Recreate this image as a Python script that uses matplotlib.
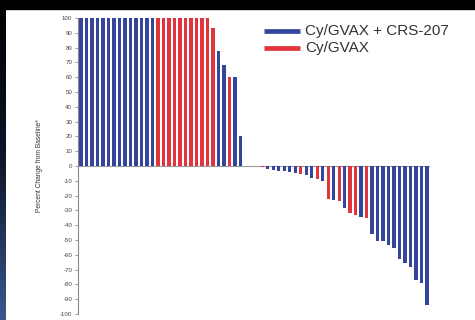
import numpy as np
import matplotlib
matplotlib.use("Agg")
import matplotlib.pyplot as plt

# percent change from baseline, one bar per patient, left to right
values = [100] * 14 + [100] * 10 + [93, 78, 68, 60, 60, 20, 0, 0, 0,
          -1, -2.3, -2.5, -3.2, -3.4, -4.1, -5, -5.4, -6.1, -7.9, -8.8, -9.9,
          -22.3, -23, -23.4, -28.6, -32, -33.1, -34.2, -35.4,
          -45.9, -50.5, -50.5, -53.4, -55.6, -62.6, -65.3, -68.5, -77, -78.8, -94.1]
# arm of each bar: "B" = Cy/GVAX + CRS-207, "R" = Cy/GVAX
arms = ("B" * 14 + "R" * 10 + "RBBRBB" + "BBB" + "R" + "BBBBBB" + "R" + "BB" + "R" + "B"
        + "RBRBRRBR" + "B" * 11)
legend_labels = ["Cy/GVAX + CRS-207", "Cy/GVAX"]
yticks = list(range(-100, 101, 10))

blue = "#33469b"
red = "#e0353a"
colors = [blue if a == "B" else red for a in arms]

fig = plt.figure(figsize=(4.75, 3.2), dpi=100)
fig.patch.set_facecolor("white")

# dark frame: black band on top, gradient strip on the left
bg = fig.add_axes([0, 0, 1, 1], zorder=-5)
bg.axis("off")
bg.add_patch(plt.Rectangle((0, 0), 475, 9, color="black"))
grad = np.linspace(0, 1, 256).reshape(-1, 1)
cmap = matplotlib.colors.LinearSegmentedColormap.from_list("g", ["#000000", "#0d1528", "#3b5790"])
bg.imshow(grad, extent=(0, 6, 320, 0), cmap=cmap, aspect="auto")
bg.set_xlim(0, 475)
bg.set_ylim(320, 0)

n = len(values)
ax = fig.add_axes([0.1636, 0.01875, 0.7425, 0.925])
x = np.arange(n)
ax.bar(x, values, width=0.62, color=colors, linewidth=0)
ax.set_xlim(-0.6, n - 0.4)
ax.set_ylim(-100, 100)
ax.axhline(0, color="#9a9a9a", linewidth=0.8, zorder=0.5)

for s in ["top", "right", "bottom"]:
    ax.spines[s].set_visible(False)
ax.spines["left"].set_color("#8a8a8a")
ax.spines["left"].set_linewidth(0.8)
ax.set_xticks([])
ax.set_yticks(yticks)
ax.set_yticklabels([str(t) for t in yticks], fontsize=4.4, color="#444444", family="Liberation Sans")
ax.tick_params(axis="y", direction="out", length=2.5, width=0.6, color="#8a8a8a", pad=1.5)
ax.set_facecolor("none")
ax.set_ylabel("Percent Change from Baseline*", fontsize=4.8, color="#333333",
              family="Liberation Sans", labelpad=12)

# legend drawn as lines + text in figure pixels
for i, (lab, c) in enumerate(zip(legend_labels, [blue, red])):
    yy = 31 + i * 17
    bg.plot([264, 300], [yy, yy], color=c, linewidth=3.4, solid_capstyle="butt")
    bg.text(305, yy, lab, fontsize=11, color="#333333", va="center", ha="left",
            family="Liberation Sans")

fig.savefig("out.png", dpi=100)
